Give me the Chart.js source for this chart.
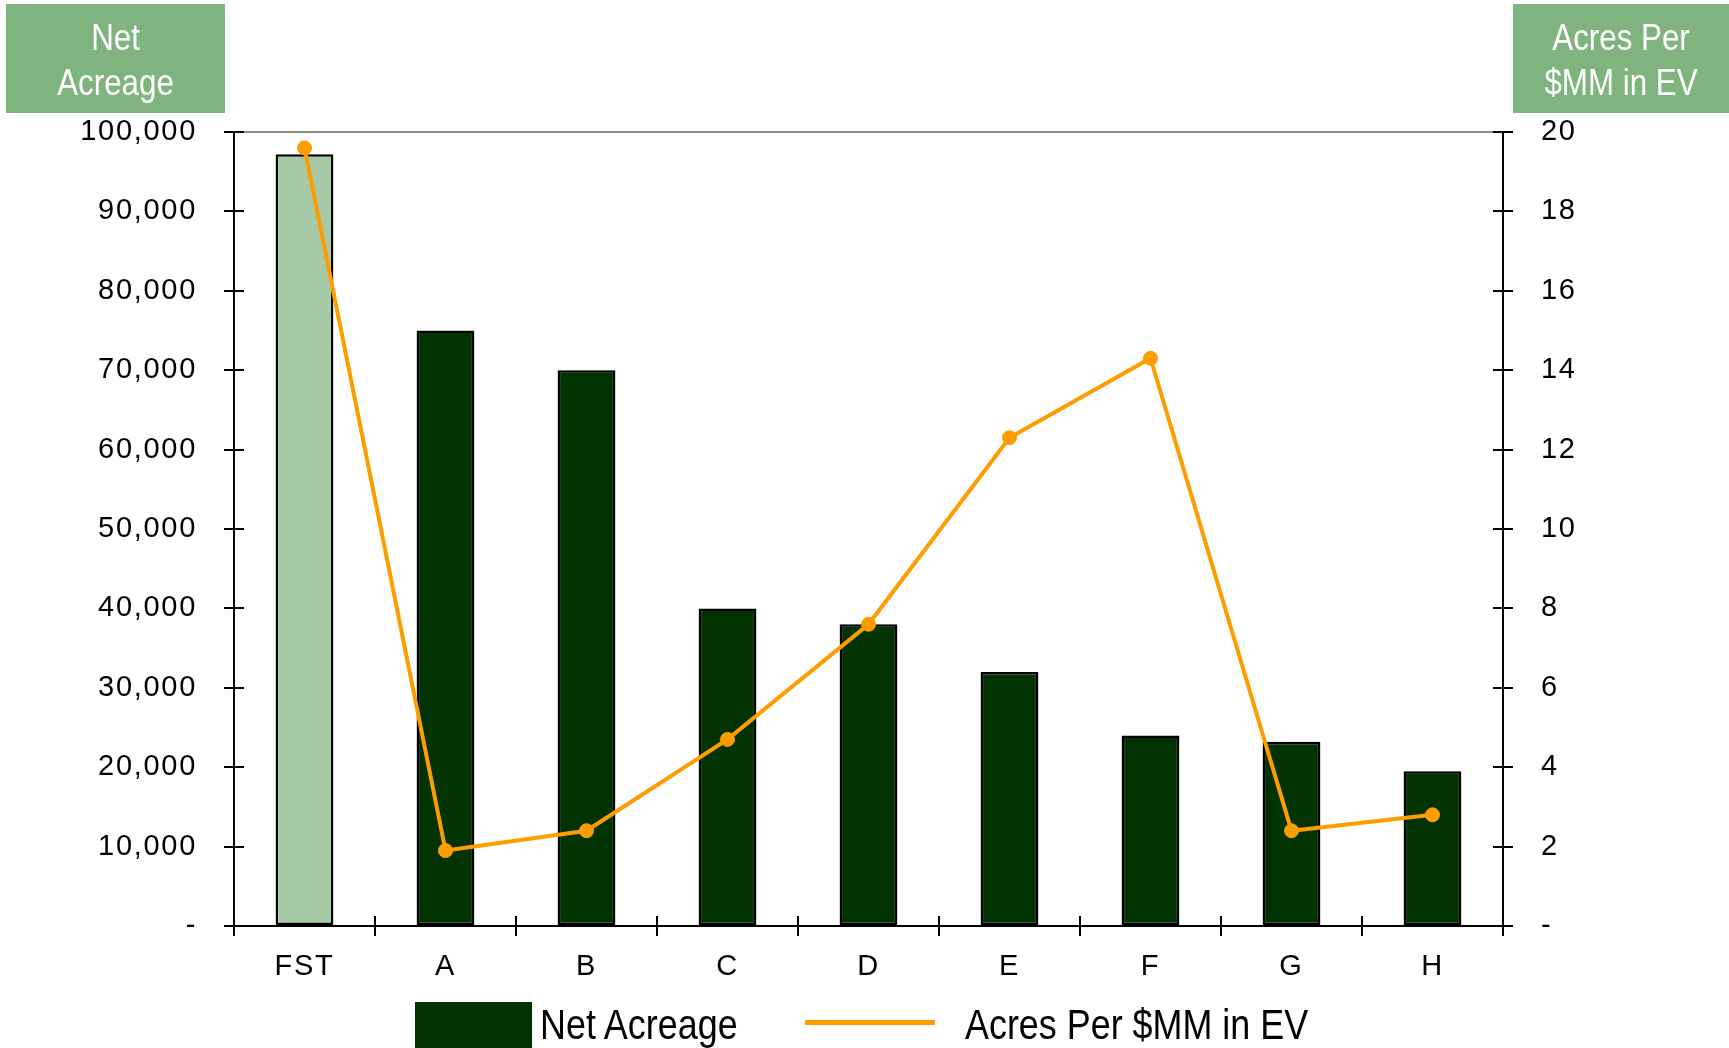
<!DOCTYPE html>
<html>
<head>
<meta charset="utf-8">
<script src="https://cdn.jsdelivr.net/npm/chart.js@4.4.1/dist/chart.umd.min.js"></script>
<style>
  html, body { margin: 0; padding: 0; background: #ffffff; }
  #wrap { position: relative; width: 1729px; height: 1048px; overflow: hidden; }
  #chart { position: absolute; left: 0; top: 0; }
  .hdr {
    position: absolute; top: 4px; height: 109px; background: #80b47f; color: #ffffff;
    font-family: "Liberation Sans", Arial, sans-serif;
    font-size: 36px; line-height: 45px; text-align: center;
  }
  .hdr span { position: absolute; left: -40px; right: -40px; top: 11px; transform: scaleX(0.87); transform-origin: center; }
  .leg {
    position: absolute; font-family: "Liberation Sans", Arial, sans-serif;
    font-size: 43px; line-height: 43px; color: #000000; white-space: nowrap;
    transform: scaleX(0.835); transform-origin: left center;
  }
</style>
</head>
<body>
<div id="wrap">
  <canvas id="chart" width="1729" height="1048"></canvas>
  <div class="hdr" style="left:6px;width:219px;"><span>Net<br>Acreage</span></div>
  <div class="hdr" style="left:1513px;width:216px;"><span>Acres Per<br>$MM in EV</span></div>
  <div style="position:absolute;left:415px;top:1002px;width:117px;height:46px;background:#003300;"></div>
  <div class="leg" style="left:540px;top:1003px;">Net Acreage</div>
  <div style="position:absolute;left:805px;top:1020px;width:130px;height:5px;background:#ff9c00;"></div>
  <div class="leg" style="left:965px;top:1003px;">Acres Per $MM in EV</div>
</div>
<script>
// Companies compared
const categories = ['FST', 'A', 'B', 'C', 'D', 'E', 'F', 'G', 'H'];
// Net acreage per company
const netAcreage = [97200, 75000, 70000, 40000, 38000, 32000, 24000, 23200, 19500];
// Acres per $MM of enterprise value
const acresPerMM = [19.6, 1.9, 2.4, 4.7, 7.6, 12.3, 14.3, 2.4, 2.8];
// Axis ranges
const leftAxisMax = 100000;
const leftAxisStep = 10000;
const rightAxisMax = 20;
const rightAxisStep = 2;

const FONT = { family: '"Liberation Sans", Arial, sans-serif', size: 29 };

// Short tick marks that cross each axis line
const crossTicks = {
  id: 'crossTicks',
  beforeDraw(chart) {
    chart.ctx.letterSpacing = '1.7px';
  },
  afterDatasetsDraw(chart) {
    const ctx = chart.ctx;
    const { x, y, y1 } = chart.scales;
    const half = 10;
    ctx.save();
    ctx.letterSpacing = '0px';
    ctx.strokeStyle = '#000000';
    ctx.lineWidth = 2;
    ctx.beginPath();
    y.ticks.forEach(t => {
      const py = Math.round(y.getPixelForValue(t.value));
      ctx.moveTo(y.right - half, py); ctx.lineTo(y.right + half, py);
    });
    y1.ticks.forEach(t => {
      const py = Math.round(y1.getPixelForValue(t.value));
      ctx.moveTo(y1.left - half, py); ctx.lineTo(y1.left + half, py);
    });
    const n = categories.length;
    for (let i = 0; i <= n; i++) {
      const px = Math.round(x.left + (x.right - x.left) * i / n);
      ctx.moveTo(px, x.top - half); ctx.lineTo(px, x.top + half);
    }
    ctx.stroke();
    ctx.restore();
  }
};

new Chart(document.getElementById('chart'), {
  data: {
    labels: categories,
    datasets: [
      {
        type: 'line',
        label: 'Acres Per $MM in EV',
        data: acresPerMM,
        yAxisID: 'y1',
        order: 0,
        borderColor: '#ff9c00',
        backgroundColor: '#ff9c00',
        borderWidth: 4,
        tension: 0,
        pointRadius: 7,
        pointBorderWidth: 1,
        pointBackgroundColor: '#ff9c00',
        pointBorderColor: '#ff9c00',
        clip: false
      },
      {
        type: 'bar',
        label: 'Net Acreage',
        data: netAcreage,
        yAxisID: 'y',
        order: 1,
        backgroundColor: ctx => ctx.dataIndex === 0 ? '#a6caa6' : '#003300',
        borderColor: '#000000',
        borderWidth: 2.5,
        borderSkipped: false,
        barPercentage: 0.41,
        categoryPercentage: 1.0
      }
    ]
  },
  options: {
    responsive: false,
    devicePixelRatio: 1,
    animation: false,
    layout: { padding: { top: 132, left: 0, right: 0, bottom: 0 } },
    plugins: { legend: { display: false }, tooltip: { enabled: false } },
    scales: {
      x: {
        type: 'category',
        offset: true,
        grid: { display: false, drawTicks: false },
        border: { display: true, color: '#000000', width: 2 },
        ticks: { color: '#000000', font: FONT, padding: 24, maxRotation: 0 },
        afterFit(scale) { scale.height = 122; }
      },
      y: {
        position: 'left',
        min: 0,
        max: leftAxisMax,
        grid: {
          display: true,
          drawOnChartArea: true,
          drawTicks: false,
          lineWidth: 2,
          color: ctx => (ctx.tick && ctx.tick.value === leftAxisMax) ? '#8c8c8c' : 'rgba(0,0,0,0)'
        },
        border: { display: true, color: '#000000', width: 2 },
        ticks: {
          stepSize: leftAxisStep,
          color: '#000000',
          font: FONT,
          padding: 37,
          callback: v => v === 0 ? '-' : v.toLocaleString('en-US')
        },
        afterFit(scale) { scale.width = 234; }
      },
      y1: {
        position: 'right',
        min: 0,
        max: rightAxisMax,
        grid: { display: false, drawTicks: false },
        border: { display: true, color: '#000000', width: 2 },
        ticks: {
          stepSize: rightAxisStep,
          color: '#000000',
          font: FONT,
          padding: 38,
          callback: v => v === 0 ? '-' : String(v)
        },
        afterFit(scale) { scale.width = 226; }
      }
    }
  },
  plugins: [crossTicks]
});
</script>
</body>
</html>
